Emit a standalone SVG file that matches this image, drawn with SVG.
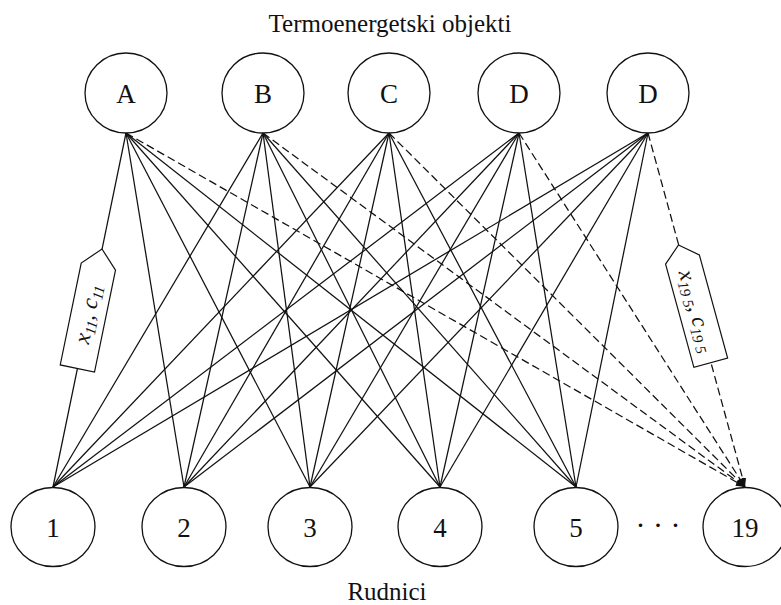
<svg xmlns="http://www.w3.org/2000/svg" width="781" height="605" viewBox="0 0 781 605">
  <style>
    .edge { stroke: #111; stroke-width: 1.25; fill: none; }
    .dash { stroke: #111; stroke-width: 1.25; fill: none; stroke-dasharray: 8 4; }
    .node { fill: #fff; stroke: #111; stroke-width: 1.3; }
    .lbl { font-family: "Liberation Serif", "Times New Roman", serif; font-size: 27px; fill: #111; text-anchor: middle; }
    .title { font-family: "Liberation Serif", "Times New Roman", serif; font-size: 25px; fill: #111; text-anchor: middle; }
    .tag { fill: #fff; stroke: #111; stroke-width: 1.2; }
    .tagtxt { font-family: "Liberation Serif", "Times New Roman", serif; font-style: italic; font-size: 23px; fill: #111; text-anchor: middle; }
    .sub { font-size: 15px; }
  </style>
  <defs>
    <marker id="arrow" viewBox="0 0 10 10" refX="10" refY="5" markerWidth="9" markerHeight="9" markerUnits="userSpaceOnUse" orient="auto">
      <path d="M0,1 L10,5 L0,9 Z" fill="#111"/>
    </marker>
  </defs>

  <text class="title" x="390" y="32">Termoenergetski objekti</text>
  <text class="title" x="387" y="600">Rudnici</text>

  <g id="connectors">
    <!-- A -->
    <line class="edge" x1="126" y1="133" x2="53" y2="487"/>
    <line class="edge" x1="126" y1="133" x2="184" y2="487"/>
    <line class="edge" x1="126" y1="133" x2="310" y2="487"/>
    <line class="edge" x1="126" y1="133" x2="440" y2="487"/>
    <line class="edge" x1="126" y1="133" x2="576" y2="487"/>
    <line class="dash" x1="126" y1="133" x2="745" y2="487" marker-end="url(#arrow)"/>
    <!-- B -->
    <line class="edge" x1="263" y1="133" x2="53" y2="487"/>
    <line class="edge" x1="263" y1="133" x2="184" y2="487"/>
    <line class="edge" x1="263" y1="133" x2="310" y2="487"/>
    <line class="edge" x1="263" y1="133" x2="440" y2="487"/>
    <line class="edge" x1="263" y1="133" x2="576" y2="487"/>
    <line class="dash" x1="263" y1="133" x2="745" y2="487" marker-end="url(#arrow)"/>
    <!-- C -->
    <line class="edge" x1="389" y1="133" x2="53" y2="487"/>
    <line class="edge" x1="389" y1="133" x2="184" y2="487"/>
    <line class="edge" x1="389" y1="133" x2="310" y2="487"/>
    <line class="edge" x1="389" y1="133" x2="440" y2="487"/>
    <line class="edge" x1="389" y1="133" x2="576" y2="487"/>
    <line class="dash" x1="389" y1="133" x2="745" y2="487" marker-end="url(#arrow)"/>
    <!-- D -->
    <line class="edge" x1="519" y1="133" x2="53" y2="487"/>
    <line class="edge" x1="519" y1="133" x2="184" y2="487"/>
    <line class="edge" x1="519" y1="133" x2="310" y2="487"/>
    <line class="edge" x1="519" y1="133" x2="440" y2="487"/>
    <line class="edge" x1="519" y1="133" x2="576" y2="487"/>
    <line class="dash" x1="519" y1="133" x2="745" y2="487" marker-end="url(#arrow)"/>
    <!-- D (2) -->
    <line class="edge" x1="648" y1="133" x2="53" y2="487"/>
    <line class="edge" x1="648" y1="133" x2="184" y2="487"/>
    <line class="edge" x1="648" y1="133" x2="310" y2="487"/>
    <line class="edge" x1="648" y1="133" x2="440" y2="487"/>
    <line class="edge" x1="648" y1="133" x2="576" y2="487"/>
    <line class="dash" x1="648" y1="133" x2="745" y2="487" marker-end="url(#arrow)"/>
  </g>

  <g id="label-x11">
    <path class="tag" transform="translate(102,249) rotate(101.65)" d="M0,0 L18,-17.5 L122,-17.5 L122,17.5 L18,17.5 Z"/>
    <text class="tagtxt" transform="translate(88,314) rotate(-78.35)" x="0" y="7">x<tspan class="sub" dy="4">11</tspan><tspan dy="-4">, c</tspan><tspan class="sub" dy="4">11</tspan></text>
  </g>

  <g id="label-x195">
    <path class="tag" transform="translate(678.5,245) rotate(74.67)" d="M0,0 L15,-17.5 L122,-17.5 L122,17.5 L15,17.5 Z"/>
    <text class="tagtxt" transform="translate(696.5,311) rotate(74.67)" x="0" y="7">x<tspan class="sub" dy="4">19 5</tspan><tspan dy="-4">, c</tspan><tspan class="sub" dy="4">19 5</tspan></text>
  </g>

  <g id="node-A"><ellipse class="node" cx="126" cy="93" rx="41" ry="40"/><text class="lbl" x="126" y="103">A</text></g>
  <g id="node-B"><ellipse class="node" cx="263" cy="93" rx="41" ry="40"/><text class="lbl" x="263" y="103">B</text></g>
  <g id="node-C"><ellipse class="node" cx="389" cy="93" rx="41" ry="40"/><text class="lbl" x="389" y="103">C</text></g>
  <g id="node-D"><ellipse class="node" cx="519" cy="93" rx="41" ry="40"/><text class="lbl" x="519" y="103">D</text></g>
  <g id="node-D2"><ellipse class="node" cx="648" cy="93" rx="41" ry="40"/><text class="lbl" x="648" y="103">D</text></g>

  <g id="node-1"><ellipse class="node" cx="53" cy="527" rx="42" ry="39.5"/><text class="lbl" x="53" y="537">1</text></g>
  <g id="node-2"><ellipse class="node" cx="184" cy="527" rx="42" ry="39.5"/><text class="lbl" x="184" y="537">2</text></g>
  <g id="node-3"><ellipse class="node" cx="310" cy="527" rx="42" ry="39.5"/><text class="lbl" x="310" y="537">3</text></g>
  <g id="node-4"><ellipse class="node" cx="440" cy="527" rx="42" ry="39.5"/><text class="lbl" x="440" y="537">4</text></g>
  <g id="node-5"><ellipse class="node" cx="576" cy="527" rx="42" ry="39.5"/><text class="lbl" x="576" y="537">5</text></g>
  <text class="lbl" x="658" y="535" style="font-size:30px">· · ·</text>
  <g id="node-19"><ellipse class="node" cx="745" cy="527" rx="42" ry="39.5"/><text class="lbl" x="745" y="537">19</text></g>
</svg>
